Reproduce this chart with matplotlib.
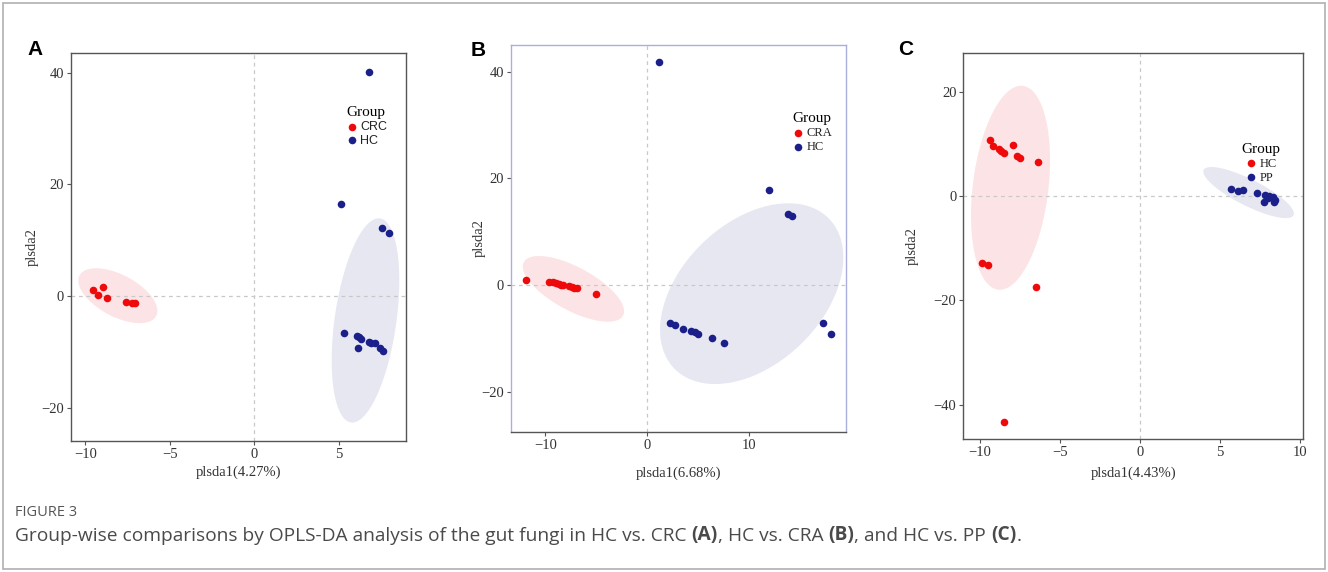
import numpy as np
import matplotlib
matplotlib.use("Agg")
import matplotlib.pyplot as plt
from matplotlib.patches import Rectangle

# panel A: HC vs CRC
a_crc_x = [-9.57, -8.94, -9.24, -8.70, -7.60, -7.22, -7.09]
a_crc_y = [1.07, 1.55, 0.18, -0.30, -1.01, -1.19, -1.25]
a_hc_x = [6.79, 5.13, 7.56, 7.95, 5.31, 6.06, 6.18, 6.34, 6.16, 6.81, 6.89, 7.12, 7.44, 7.60]
a_hc_y = [40.2, 16.4, 12.1, 11.3, -6.7, -7.2, -7.4, -7.7, -9.25, -8.2, -8.5, -8.5, -9.4, -9.85]
# ellipses: (cx, cy, rx, ry, rho)
a_ellipses = [(-8.08, 0.04, 2.34, 4.92, -0.55), (6.575, -4.39, 2.0, 18.3, 0.39)]

# panel B: HC vs CRA
b_cra_x = [-11.93, -9.64, -9.28, -8.95, -8.66, -8.49, -8.23, -7.64, -7.38, -7.15, -6.89, -5.02]
b_cra_y = [0.94, 0.5, 0.5, 0.38, 0.19, -0.06, 0.0, -0.13, -0.31, -0.56, -0.5, -1.63]
b_hc_x = [1.18, 12.03, 13.84, 14.26, 2.26, 2.79, 3.57, 4.30, 4.72, 5.05, 6.36, 7.61, 17.34, 18.10]
b_hc_y = [41.75, 17.8, 13.4, 12.9, -7.1, -7.5, -8.2, -8.6, -8.9, -9.2, -10.0, -10.9, -7.2, -9.2]
b_ellipses = [(-7.24, -0.72, 4.98, 6.16, -0.68), (10.29, -1.62, 9.01, 16.94, 0.40)]

# panel C: HC vs PP
c_hc_x = [-9.38, -9.17, -8.79, -8.67, -8.50, -7.92, -7.71, -7.50, -6.35, -9.85, -9.52, -6.48, -8.52]
c_hc_y = [10.8, 9.58, 9.07, 8.56, 8.18, 9.84, 7.67, 7.22, 6.52, -12.78, -13.23, -17.5, -43.2]
c_pp_x = [5.69, 6.10, 6.42, 7.33, 7.81, 7.77, 8.08, 8.29, 8.44, 8.40, 8.02]
c_pp_y = [1.34, 1.02, 1.15, 0.51, 0.13, -1.21, -0.06, -0.19, -0.70, -1.21, -0.38]
c_ellipses = [(-8.09, 1.6, 2.47, 19.55, 0.27), (6.79, 0.68, 2.83, 4.89, -0.82)]

RED = "#EE0A0A"
NAVY = "#1B1F8A"
RED_FILL = "#FCE4E6"
NAVY_FILL = "#E6E7F1"
SERIF = "Liberation Serif"
SANS = "Liberation Sans"

W, H = 1328, 572
fig = plt.figure(figsize=(W / 100, H / 100), dpi=100)


def ellipse_xy(cx, cy, rx, ry, rho):
    t = np.linspace(0, 2 * np.pi, 240)
    x = cx + rx * np.cos(t)
    y = cy + ry * (rho * np.cos(t) + np.sqrt(1 - rho ** 2) * np.sin(t))
    return x, y


def panel(rect, g1, g2, ellipses, xlim, ylim, xticks, yticks, xlabel, labels,
          leg_anchor, leg_font, xlab_y, ylab_x, frame="#555555", bottom="#555555"):
    ax = fig.add_axes(rect)
    for (cx, cy, rx, ry, rho), fc in zip(ellipses, [RED_FILL, NAVY_FILL]):
        ex, ey = ellipse_xy(cx, cy, rx, ry, rho)
        ax.fill(ex, ey, color=fc, lw=0, zorder=1)
    ax.axhline(0, color="#c8c8c8", lw=0.9, ls=(0, (3, 3)), zorder=2)
    ax.axvline(0, color="#c8c8c8", lw=0.9, ls=(0, (3, 3)), zorder=2)
    h1 = ax.scatter(g1[0], g1[1], s=30, color=RED, lw=0, zorder=3)
    h2 = ax.scatter(g2[0], g2[1], s=30, color=NAVY, lw=0, zorder=3)
    ax.set_xlim(*xlim)
    ax.set_ylim(*ylim)
    ax.set_xticks(xticks)
    ax.set_yticks(yticks)
    for name, sp in ax.spines.items():
        sp.set_color(bottom if name == "bottom" else frame)
        sp.set_linewidth(1.0)
    ax.tick_params(direction="out", length=3, width=0.8, color="#555555",
                   labelcolor="#333333", labelsize=10.5, pad=2)
    for lab in ax.get_xticklabels() + ax.get_yticklabels():
        lab.set_fontfamily(SERIF)
    ax.set_xlabel(xlabel, fontfamily=SERIF, fontsize=10.5, color="#333333", va="center")
    ax.set_ylabel("plsda2", fontfamily=SERIF, fontsize=10.5, color="#333333", va="center")
    ax.xaxis.set_label_coords(0.5, xlab_y)
    ax.yaxis.set_label_coords(ylab_x, 0.5)
    leg = ax.legend([h1, h2], labels, title="Group", loc="upper left",
                    bbox_to_anchor=leg_anchor, frameon=False, handletextpad=0.2,
                    borderpad=0, labelspacing=0.15, handlelength=1.0,
                    prop={"family": leg_font, "size": 9},
                    title_fontproperties={"family": SERIF, "size": 11})
    for t in leg.get_texts():
        t.set_color("#222222")
    return ax


ax_a = panel([0.0535, 0.229, 0.2523, 0.678], (a_crc_x, a_crc_y), (a_hc_x, a_hc_y),
             a_ellipses, (-10.85, 8.98), (-26.0, 43.5), [-10, -5, 0, 5], [-20, 0, 20, 40],
             "plsda1(4.27%)", ["CRC", "HC"], (0.80, 0.88), SANS, -0.080, -0.116)
ax_b = panel([0.3846, 0.2453, 0.2525, 0.676], (b_cra_x, b_cra_y), (b_hc_x, b_hc_y),
             b_ellipses, (-13.4, 19.57), (-27.5, 45.0), [-10, 0, 10], [-20, 0, 20, 40],
             "plsda1(6.68%)", ["CRA", "HC"], (0.82, 0.842), SERIF, -0.107, -0.0945,
             frame="#A9AEDD", bottom="#555555")
ax_c = panel([0.7254, 0.232, 0.256, 0.676], (c_hc_x, c_hc_y), (c_pp_x, c_pp_y),
             c_ellipses, (-11.04, 10.21), (-46.6, 27.5), [-10, -5, 0, 5, 10], [-40, -20, 0, 20],
             "plsda1(4.43%)", ["HC", "PP"], (0.80, 0.783), SERIF, -0.087, -0.151)

# panel letters
for letter, px, py in [("A", 27, 55), ("B", 471, 56), ("C", 898, 55)]:
    fig.text(px / W, 1 - py / H, letter, fontsize=15, fontweight="bold",
             fontfamily=SANS, va="baseline", ha="left")

# caption
fig.text(15 / W, 1 - 513 / H, "FIGURE 3", fontfamily="Open Sans", fontsize=10.5,
         color="#555555", va="center", ha="left")
pieces = [("Group-wise comparisons by OPLS-DA analysis of the gut fungi in HC vs. CRC ", "normal"),
          ("(A)", "bold"), (", HC vs. CRA ", "normal"), ("(B)", "bold"),
          (", and HC vs. PP ", "normal"), ("(C)", "bold"), (".", "normal")]
prev = fig.text(15 / W, 1 - 541 / H, pieces[0][0], fontfamily="Open Sans",
                fontsize=13.8, color="#4a4a4a", va="baseline", ha="left")
for txt, w in pieces[1:]:
    prev = ax_a.annotate(txt, xy=(1, 0), xycoords=prev, va="bottom", ha="left",
                         fontfamily="Open Sans", fontsize=13.8, fontweight=w,
                         color="#4a4a4a", annotation_clip=False)

fig.patches.append(Rectangle((3 / W, 3 / H), 1322 / W, 566 / H,
                             transform=fig.transFigure, fill=False,
                             edgecolor="#b0b0b0", lw=1.2))

fig.savefig("out.png", dpi=100)
